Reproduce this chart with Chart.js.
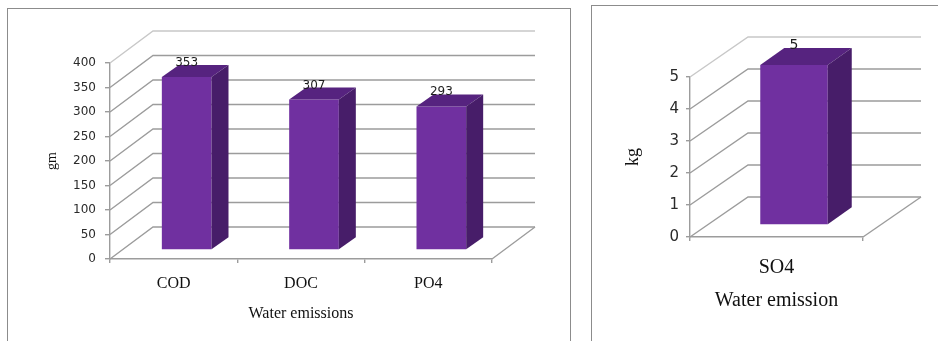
<!DOCTYPE html>
<html>
<head>
<meta charset="utf-8">
<script src="https://cdn.jsdelivr.net/npm/chart.js@4.4.0/dist/chart.umd.min.js"></script>
<style>
  body { margin: 0; background: #fff; width: 938px; height: 341px; overflow: hidden; position: relative; }
  .panel { position: absolute; border: 1px solid #8c8c8c; }
  canvas { position: absolute; top: 0; }
</style>
</head>
<body>
<div class="panel" style="left:7px;top:8px;width:562px;height:400px"></div>
<div class="panel" style="left:591px;top:5px;width:400px;height:400px"></div>
<canvas id="leftChart" width="580" height="341" style="left:0"></canvas>
<canvas id="rightChart" width="348" height="341" style="left:590px"></canvas>
<script>
// left chart: water emissions in gm
const leftLabels = ["COD", "DOC", "PO4"];
const leftValues = [353, 307, 293];
const leftTickMin = 0, leftTickMax = 400, leftTickStep = 50;

// right chart: water emission in kg
const rightLabels = ["SO4"];
const rightValues = [5];
const rightTickMin = 0, rightTickMax = 5, rightTickStep = 1;

const FRONT = "#7030a0";
const TOP = "#56237f";
const SIDE = "#471d69";
const GRID = "#9c9c9c";

// fakes the excel 3d look: walls behind, bars shifted back, top + side faces
const box3d = {
  id: "box3d",
  beforeDatasetsDraw(chart, args, o) {
    const { ctx, chartArea: a, scales: { y } } = chart;
    ctx.save();
    ctx.lineWidth = 1.4;
    y.ticks.forEach((t, i) => {
      const py = y.getPixelForValue(t.value);
      ctx.strokeStyle = i === y.ticks.length - 1 ? "#c8c8c8" : GRID;
      ctx.beginPath();
      ctx.moveTo(a.left, py);
      ctx.lineTo(a.left + o.backX, py + o.backY);
      ctx.lineTo(a.right + o.backX, py + o.backY);
      ctx.stroke();
    });
    // floor right edge
    const p0 = y.getPixelForValue(y.min);
    ctx.strokeStyle = GRID;
    ctx.beginPath();
    ctx.moveTo(a.right, p0);
    ctx.lineTo(a.right + o.backX, p0 + o.backY);
    ctx.stroke();
    ctx.restore();

    ctx.save();
    ctx.translate(o.shiftX, o.shiftY);
  },
  afterDatasetsDraw(chart, args, o) {
    const { ctx } = chart;
    const vals = chart.data.datasets[0].data;
    chart.getDatasetMeta(0).data.forEach((bar, i) => {
      const { x, y, base, width } = bar.getProps(["x", "y", "base", "width"], true);
      const l = x - width / 2, r = x + width / 2;
      const dx = o.depthX, dy = o.depthY;
      ctx.fillStyle = TOP;
      ctx.beginPath();
      ctx.moveTo(l, y);
      ctx.lineTo(l + dx, y + dy);
      ctx.lineTo(r + dx, y + dy);
      ctx.lineTo(r, y);
      ctx.closePath();
      ctx.fill();
      ctx.fillStyle = SIDE;
      ctx.beginPath();
      ctx.moveTo(r, y);
      ctx.lineTo(r + dx, y + dy);
      ctx.lineTo(r + dx, base + dy);
      ctx.lineTo(r, base);
      ctx.closePath();
      ctx.fill();
      ctx.fillStyle = "#1e1e1e";
      ctx.font = o.labelFont;
      ctx.textAlign = "center";
      ctx.textBaseline = "alphabetic";
      ctx.fillText(String(vals[i]), x, y + dy + 1);
    });
    ctx.restore();
  },
};

function makeChart(id, labels, values, cfg) {
  const ctx = document.getElementById(id).getContext("2d");
  return new Chart(ctx, {
    type: "bar",
    data: {
      labels: labels,
      datasets: [
        {
          data: values,
          backgroundColor: FRONT,
          borderWidth: 0,
          categoryPercentage: 1,
          barPercentage: 0.39,
          clip: false,
        },
      ],
    },
    plugins: [box3d],
    options: {
      responsive: false,
      animation: false,
      events: [],
      layout: { padding: { top: cfg.padTop, right: cfg.padRight, bottom: cfg.padBottom, left: 0 } },
      plugins: {
        legend: { display: false },
        tooltip: { enabled: false },
        box3d: cfg.box,
      },
      scales: {
        x: {
          grid: { display: true, drawOnChartArea: false, tickLength: 4, color: GRID, lineWidth: 1.4, offset: true },
          border: { display: true, color: GRID, width: 1.4 },
          ticks: { color: "#111", padding: cfg.xPad, font: { family: "Liberation Serif", size: cfg.xFont } },
          title: {
            display: true,
            text: cfg.xTitle,
            color: "#111",
            padding: { top: 0, bottom: 0 },
            font: { family: "Liberation Serif", size: cfg.xFont },
          },
          afterFit: (s) => { s.height = cfg.xHeight; },
        },
        y: {
          min: cfg.min,
          max: cfg.max,
          ticks: { stepSize: cfg.step, color: "#2a2a2a", padding: cfg.yPad, font: { family: "DejaVu Sans", size: cfg.yFont } },
          grid: { display: true, drawOnChartArea: false, tickLength: cfg.yTick, color: GRID, lineWidth: 1.4 },
          border: { display: true, color: GRID, width: 1.4 },
          title: {
            display: true,
            text: cfg.yTitle,
            color: "#111",
            padding: { top: cfg.yTitlePad, bottom: 0 },
            font: { family: "Liberation Serif", size: cfg.yTitleFont },
          },
          afterFit: (s) => { s.width = cfg.yWidth; },
        },
      },
    },
  });
}

makeChart("leftChart", leftLabels, leftValues, {
  min: leftTickMin, max: leftTickMax, step: leftTickStep,
  padTop: 63, padRight: 88, padBottom: 18,
  xHeight: 64, xPad: 11, xFont: 16, xTitle: "Water emissions",
  yWidth: 110, yPad: 9, yTick: 5, yFont: 12,
  yTitle: "gm", yTitleFont: 14, yTitlePad: 44,
  box: { backX: 43, backY: -32, shiftX: 13, shiftY: -9, depthX: 17, depthY: -12, labelFont: "12px 'DejaVu Sans'" },
});

makeChart("rightChart", rightLabels, rightValues, {
  min: rightTickMin, max: rightTickMax, step: rightTickStep,
  padTop: 77, padRight: 75, padBottom: 28,
  xHeight: 76, xPad: 15, xFont: 20, xTitle: "Water emission",
  yWidth: 100, yPad: 7, yTick: 4, yFont: 15,
  yTitle: "kg", yTitleFont: 18, yTitlePad: 32,
  box: { backX: 58, backY: -40, shiftX: 17.5, shiftY: -12, depthX: 24, depthY: -17, labelFont: "14px 'DejaVu Sans'" },
});
</script>
</body>
</html>
